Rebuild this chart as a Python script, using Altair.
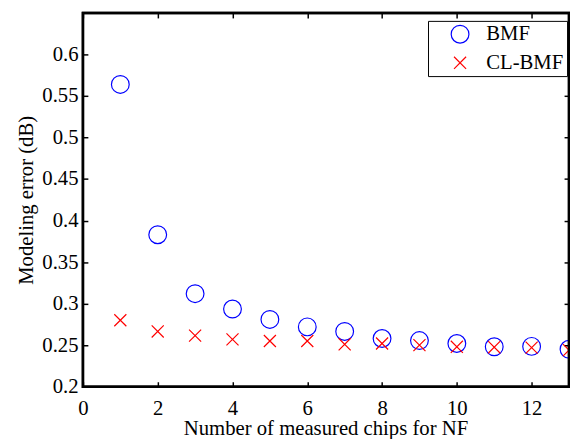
import altair as alt
import pandas as pd

chips = list(range(1, 14))
bmf = [0.564, 0.383, 0.312, 0.2935, 0.281, 0.272, 0.2665, 0.258, 0.2555, 0.252, 0.248, 0.2485, 0.245]
cl_bmf = [0.280, 0.2665, 0.2615, 0.257, 0.255, 0.255, 0.251, 0.252, 0.250, 0.248, 0.2475, 0.247, 0.244]
series_names = ["BMF", "CL-BMF"]
x_ticks = [0, 2, 4, 6, 8, 10, 12]
y_ticks = [0.2, 0.25, 0.3, 0.35, 0.4, 0.45, 0.5, 0.55, 0.6]
x_domain = [0, 13]
y_domain = [0.2, 0.65]

df = pd.DataFrame({
    "chips": chips + chips,
    "error": bmf + cl_bmf,
    "series": [series_names[0]] * len(chips) + [series_names[1]] * len(chips),
})

FONT = "Liberation Serif"
XPATH = "M-0.68,-0.68L0.68,0.68M-0.68,0.68L0.68,-0.68"

xscale = alt.Scale(domain=x_domain, nice=False, zero=False)
yscale = alt.Scale(domain=y_domain, nice=False, zero=False)

common_axis = dict(
    domain=False, grid=False, ticks=True, tickSize=5, tickWidth=1.5,
    tickColor="black", offset=-5, labelFont=FONT, labelFontSize=21,
    labelColor="black", titleFont=FONT, titleFontSize=21, titleColor="black",
    titleFontWeight="normal", labelFlush=False,
)

points = alt.Chart(df).mark_point(
    filled=False, strokeWidth=1.2, size=324, clip=True, opacity=1
).encode(
    x=alt.X("chips:Q", scale=xscale, axis=alt.Axis(
        orient="bottom", values=x_ticks, format="~g", labelPadding=11,
        title="Number of measured chips for NF", titleX=246, titleY=54,
        titleBaseline="alphabetic", titleAnchor="middle", titleAlign="center",
        **common_axis)),
    y=alt.Y("error:Q", scale=yscale, axis=alt.Axis(
        orient="left", values=y_ticks, format="~g", labelPadding=5,
        title="Modeling error (dB)", titleX=-56, titleY=189.5, titleAngle=270,
        titleBaseline="alphabetic", titleAlign="center",
        **common_axis)),
    color=alt.Color("series:N", scale=alt.Scale(domain=series_names, range=["#0000ff", "#ff0000"]),
                    legend=alt.Legend(title=None)),
    shape=alt.Shape("series:N", scale=alt.Scale(domain=series_names, range=["circle", XPATH]),
                    legend=alt.Legend(title=None)),
)

frame = alt.Chart(df).mark_point(opacity=0, size=1).encode(
    x=alt.X("chips:Q", scale=xscale, axis=alt.Axis(
        orient="top", values=x_ticks, labels=False, title=None,
        domain=False, grid=False, tickSize=5, tickWidth=1.5, tickColor="black", offset=-5)),
    y=alt.Y("error:Q", scale=yscale, axis=alt.Axis(
        orient="right", values=y_ticks, labels=False, title=None,
        domain=False, grid=False, tickSize=5, tickWidth=1.5, tickColor="black", offset=-5)),
)

box = alt.Chart(pd.DataFrame({"k": [0]})).mark_rect(
    fill="transparent", fillOpacity=0, stroke="#000000", strokeWidth=2.5, clip=False
).encode(
    x=alt.datum(x_domain[0], type="quantitative", scale=xscale, axis=None),
    x2=alt.datum(x_domain[1]),
    y=alt.datum(y_domain[0], type="quantitative", scale=yscale, axis=None),
    y2=alt.datum(y_domain[1]),
)

chart = alt.layer(points, frame, box).resolve_axis(
    x="independent", y="independent"
).properties(
    width=493, height=379,
    background="white",
    autosize=alt.AutoSizeParams(type="none"),
    padding={"left": 76, "top": 2, "right": 1, "bottom": 50},
).configure_view(
    stroke="#000000", strokeWidth=2.5, fill="white", strokeOpacity=1
).configure_axis(
    labelFont=FONT, labelFontSize=21, labelColor="black",
    titleFont=FONT, titleFontSize=21, titleColor="black", titleFontWeight="normal",
).configure_legend(
    orient="none", legendX=350, legendY=8,
    strokeColor="black", fillColor="white", strokeWidth=1,
    padding=3, cornerRadius=0, rowPadding=6,
    symbolSize=324, symbolStrokeWidth=1.2, symbolOffset=19, labelOffset=16,
    labelFont=FONT, labelFontSize=21, labelColor="black",
)

chart.save("out.html", embed_options={"renderer": "svg", "actions": False})
